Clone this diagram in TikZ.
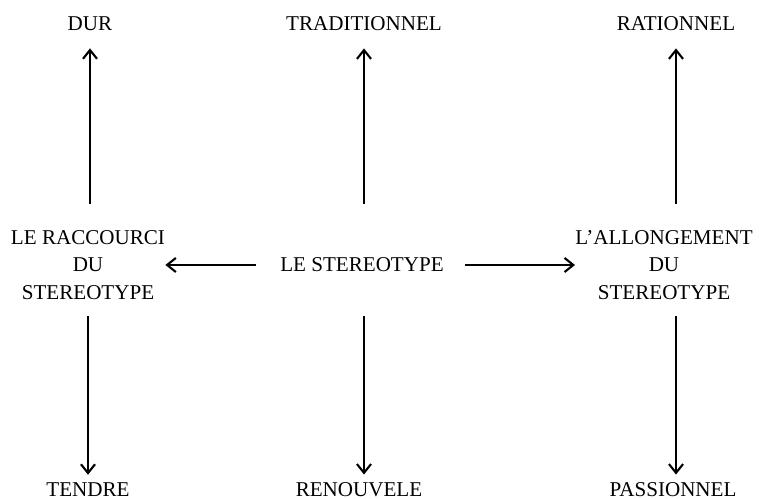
\documentclass[tikz,border=0pt]{standalone}
\usepackage{fontspec}
\setmainfont{Liberation Serif}
\usepackage{tikz}
\usetikzlibrary{arrows.meta}

\tikzset{
  lbl/.style={inner sep=0pt, align=center, font=\fontsize{12}{15.6}\selectfont},
  pil/.style={line width=0.8pt, -{Straight Barb[length=5pt,width=8pt,line width=1.2pt]}},
}

\begin{document}
\begin{tikzpicture}[x=0.02cm, y=-0.02cm]
        \useasboundingbox (0,0) rectangle (765,499);                 %
        \node [lbl] (dur)    at (90,24)   {DUR};                       %
        \node [lbl] (trad)   at (364,24)  {TRADITIONNEL};              %
        \node [lbl] (rat)    at (676,24)  {RATIONNEL};                 %
        \node [lbl] (racc)   at (88,265)  {LE RACCOURCI\\DU\\STEREOTYPE};   %
        \node [lbl] (stereo) at (362,265) {LE STEREOTYPE};             %
        \node [lbl] (allong) at (664,265) {L'ALLONGEMENT\\DU\\STEREOTYPE};  %
        \node [lbl] (tendre) at (88,490)  {TENDRE};                    %
        \node [lbl] (renouv) at (359,490) {RENOUVELE};                 %
        \node [lbl] (pass)   at (673,490) {PASSIONNEL};                %
        \draw [pil, shorten <=0.52cm, shorten >=0.34cm]  (dur |- racc.north) -- (dur);        %haut
        \draw [pil, shorten <=0.52cm, shorten >=0.34cm]  (trad |- racc.north) -- (trad);      %
        \draw [pil, shorten <=0.52cm, shorten >=0.34cm]  (rat |- allong.north) -- (rat);      %
        \draw [pil, shorten <=0.32cm, shorten >=0.16cm] (tendre |- racc.south) -- (tendre);  %bas
        \draw [pil, shorten <=0.32cm, shorten >=0.16cm] (trad |- racc.south) -- (trad |- renouv.north); %
        \draw [pil, shorten <=0.32cm, shorten >=0.16cm] (rat |- allong.south) -- (rat |- pass.north);   %
        \draw [pil, shorten <=0.48cm]  (stereo.west) -- (racc.east);                         %gauche
        \draw [pil, shorten <=0.42cm]  (stereo.east) -- (allong.west);                       %droite
\end{tikzpicture}
\end{document}
